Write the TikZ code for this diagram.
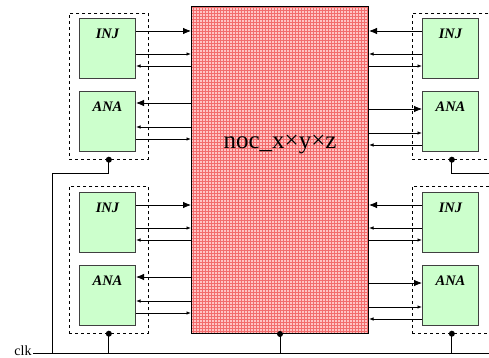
\documentclass[tikz,border=0pt]{standalone}
\usepackage{fontspec}
\setmainfont{Liberation Serif}
\usetikzlibrary{positioning,calc,arrows.meta}
\definecolor{nocfill}{RGB}{255,196,196}
\definecolor{nocgrid}{RGB}{242,108,108}
\definecolor{unitfill}{RGB}{204,255,204}

\begin{document}
\begin{tikzpicture}[x=1pt,y=-1pt,line width=0.8pt,every node/.style={font=\fontsize{14}{16}\selectfont}]
  \tikzstyle{unit}=[draw=black!75, fill=unitfill, line width=1pt, minimum width=56pt, inner sep=0pt, text height=20pt, text depth=40pt, font=\fontsize{14.5}{16}\selectfont\bfseries\itshape]
  \tikzstyle{wrap}=[draw, dashed, line width=0.7pt, minimum width=79pt, inner sep=0pt]
  \tikzstyle{nocbox}=[draw, fill=nocfill, line width=1pt, minimum width=177pt, inner sep=0pt, text height=142pt, text depth=185pt, font=\fontsize{25}{28}\selectfont, path picture={\draw[nocgrid, line width=0.35pt, step=3pt] (path picture bounding box.south west) grid (path picture bounding box.north east);}]
  \tikzstyle{tap}=[circle, fill, inner sep=0pt, minimum size=6pt]
  \tikzstyle{big}=[-{Latex[length=8pt,width=6.5pt]}]
  \tikzstyle{small}=[-{Latex[length=4.5pt,width=3.5pt]}]
  \useasboundingbox (0,0) rectangle (489,358);
  \clip (0,0) rectangle (489,358);

  \node[nocbox, anchor=north west] (noc) at (191,6) {noc\_x×y×z};

  \node[wrap, minimum height=146pt, anchor=north west] (wrapA) at (69,13) {};
  \node[wrap, minimum height=146pt, anchor=north west] (wrapB) at (412,13) {};
  \node[wrap, minimum height=147pt, anchor=north west] (wrapC) at (69,186) {};
  \node[wrap, minimum height=147pt, anchor=north west] (wrapD) at (412,186) {};

  \node[unit, anchor=north west] (injA) at (79,18) {INJ};
  \node[unit, below=12pt of injA] (anaA) {ANA};
  \node[unit, anchor=north west] (injB) at (422,18) {INJ};
  \node[unit, below=12pt of injB] (anaB) {ANA};
  \node[unit, anchor=north west] (injC) at (79,192) {INJ};
  \node[unit, below=12pt of injC] (anaC) {ANA};
  \node[unit, anchor=north west] (injD) at (422,192) {INJ};
  \node[unit, below=12pt of injD] (anaD) {ANA};

  \foreach \row in {A,C} {
    \draw[big] ($(inj\row.north east)+(0,13)$) coordinate (p) -- (p -| noc.west);
    \draw[small] ($(inj\row.north east)+(0,36)$) coordinate (p) -- (p -| noc.west);
    \draw[small] ($(inj\row.north east)+(0,48)$) coordinate (p) (p -| noc.west) -- (p);
    \draw[big] ($(ana\row.north east)+(0,12)$) coordinate (p) (p -| noc.west) -- (p);
    \draw[small] ($(ana\row.north east)+(0,36)$) coordinate (p) (p -| noc.west) -- (p);
    \draw[small] ($(ana\row.north east)+(0,48)$) coordinate (p) -- (p -| noc.west);
  }
  \foreach \row in {B,D} {
    \draw[big] ($(inj\row.north west)+(0,13)$) coordinate (p) -- (p -| noc.east);
    \draw[small] ($(inj\row.north west)+(0,36)$) coordinate (p) -- (p -| noc.east);
    \draw[small] ($(inj\row.north west)+(0,48)$) coordinate (p) (p -| noc.east) -- (p);
    \draw[big] ($(ana\row.north west)+(0,18)$) coordinate (p) (p -| noc.east) -- (p);
    \draw[small] ($(ana\row.north west)+(0,42)$) coordinate (p) (p -| noc.east) -- (p);
    \draw[small] ($(ana\row.north west)+(0,54)$) coordinate (p) -- (p -| noc.east);
  }

  \node[tap] (dA) at (wrapA.south) {};
  \node[tap] (dB) at (wrapB.south) {};
  \node[tap] (dC) at (wrapC.south) {};
  \node[tap] (dD) at (wrapD.south) {};
  \node[tap] (dN) at (noc.south) {};

  \node[anchor=base east, inner sep=1pt] (clk) at (33,355) {clk};
  \coordinate (bus) at (495,353);
  \coordinate (tapL) at (52,353);
  \draw ([yshift=2pt]clk.base east) -- (bus);
  \draw (dA.center) -- ++(0,14) -| (tapL);
  \draw (dB.center) -- ++(0,14) -- ++(50,0);
  \draw (dC.center) -- (dC |- bus);
  \draw (dD.center) -- (dD |- bus);
  \draw (dN.center) -- (dN |- bus);
\end{tikzpicture}
\end{document}
